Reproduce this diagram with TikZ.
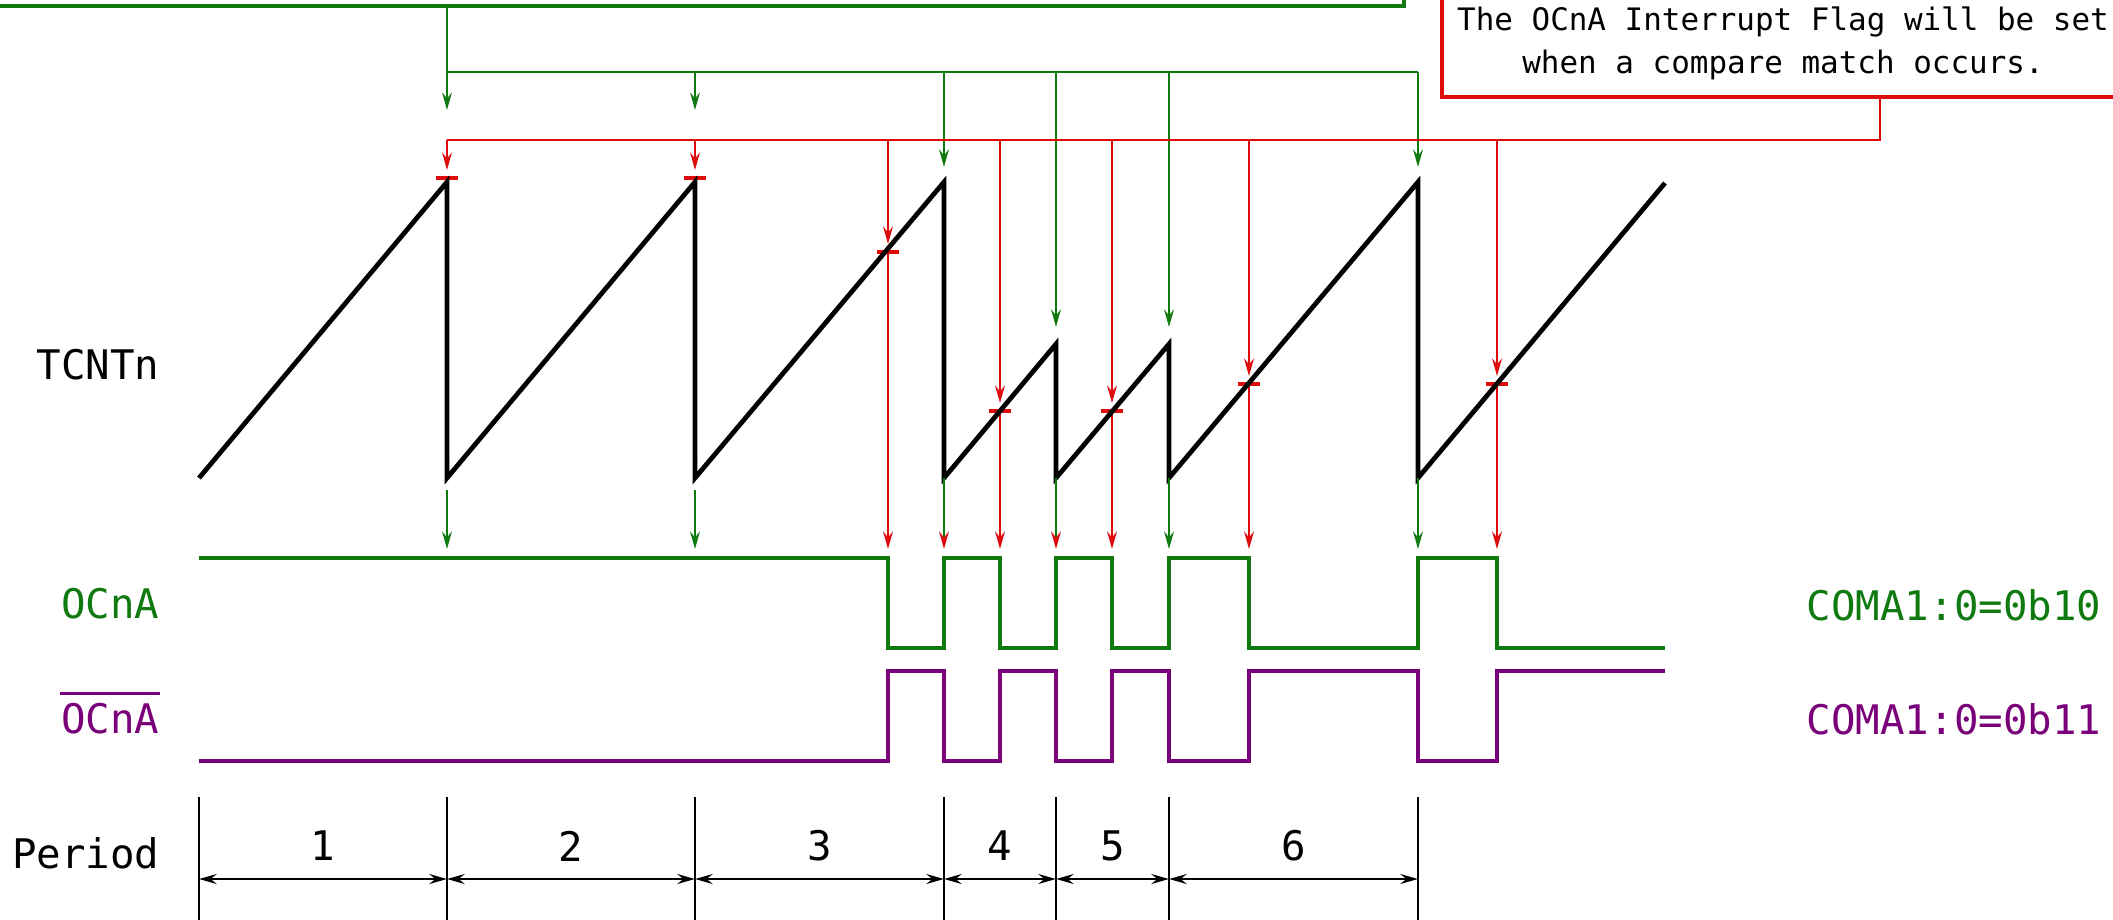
\documentclass[tikz,border=0pt]{standalone}
\usepackage{fontspec}
\setmonofont{DejaVu Sans Mono}
\usetikzlibrary{arrows.meta}
\usepackage{xcolor}
\definecolor{ocgreen}{RGB}{16,122,16}
\definecolor{ocred}{RGB}{222,12,12}
\definecolor{ocpurple}{RGB}{122,0,122}

\begin{document}
\begin{tikzpicture}[x=0.1mm, y=-0.1mm,
                    font=\ttfamily\fontsize{11.6}{14}\selectfont,
                    >={Stealth[length=5pt,width=2.8pt,inset=1.7pt]},
                    lbl/.style={inner sep=0pt, anchor=east},
                    thinline/.style={line width=0.55pt}]

    \useasboundingbox (0,0) rectangle (2113,919);
    \clip (0,0) rectangle (2113,919);

    % ==========================================================
    % notes on top
    % ==========================================================
    \draw[ocgreen, line width=1.2pt] (-20,-120) rectangle (1404,6);
    \node[draw=ocred, line width=1pt, minimum width=68.2mm, minimum height=10.7mm,
          align=center, font=\ttfamily\fontsize{8.8}{12.2}\selectfont]
         (flagbox) at (1783,43.5) {The OCnA Interrupt Flag will be set\\when a compare match occurs.};

    \coordinate (greentap) at (447,6);
    \coordinate (greenbus) at (447,72);
    \coordinate (redtap)   at (1880,140);

    % TOP / BOTTOM events
    \draw[ocgreen, thinline] (greentap) -- (greenbus) -- (1418,72);
    \foreach \x/\t in {447/110, 695/110, 944/167, 1056/327, 1169/327, 1418/167}
        \draw[ocgreen, thinline, ->] (\x,72) -- (\x,\t);

    % compare match
    \draw[ocred, line width=0.8pt] (flagbox.south -| redtap) -- (redtap) -- (447,140);
    \foreach \x/\c in {447/178, 695/178, 888/252, 1000/411, 1112/411, 1249/384, 1497/384} {
        \draw[ocred, thinline, ->] (\x,140) -- (\x,\c-8);
        \draw[ocred, line width=0.9pt] (\x-11,\c) -- (\x+11,\c);
    }
    \foreach \x/\c in {888/252, 1000/411, 1112/411, 1249/384, 1497/384}
        \draw[ocred, thinline, ->] (\x,\c) -- (\x,549);

    % ==========================================================
    % TCNTn
    % ==========================================================
    \draw[line width=1.35pt, line join=miter]
        (199,478) -- (447,182) -- (447,478) -- (695,182) -- (695,478)
        -- (944,182) -- (944,478) -- (1056,344) -- (1056,478) -- (1169,344)
        -- (1169,478) -- (1418,182) -- (1418,478) -- (1665,183);

    % events down to the outputs
    \foreach \x/\s/\hd in {447/490/ocgreen, 695/490/ocgreen, 944/478/ocred,
                           1056/478/ocred, 1169/478/ocgreen, 1418/478/ocgreen}
        \draw[ocgreen, thinline, -{Stealth[length=5pt,width=2.8pt,inset=1.7pt,color=\hd]}]
            (\x,\s) -- (\x,549);

    % ==========================================================
    % outputs
    % ==========================================================
    \draw[ocgreen, line width=1.05pt]
        (199,558) -| (888,648) -| (944,558) -| (1000,648) -| (1056,558)
        -| (1112,648) -| (1169,558) -| (1249,648) -| (1418,558) -| (1497,648)
        -- (1665,648);
    \draw[ocpurple, line width=1.05pt]
        (199,761) -| (888,671) -| (944,761) -| (1000,671) -| (1056,761)
        -| (1112,671) -| (1169,761) -| (1249,671) -| (1418,761) -| (1497,671)
        -- (1665,671);

    % labels
    \node[lbl] (tcntlbl) at (160,365) {TCNTn};
    \node[lbl, ocgreen] (ocalbl) at (160,604) {OCnA};
    \node[lbl, ocpurple] (ocnlbl) at (160,719) {OCnA};
    \draw[ocpurple, line width=0.9pt]
        ([yshift=2.6pt]ocnlbl.north west) -- ([yshift=2.6pt]ocnlbl.north east);
    \node[lbl, ocgreen] (coma10) at (2102,605) {COMA1:0=0b10};
    \node[lbl, ocpurple] (coma11) at (2102,719) {COMA1:0=0b11};

    % ==========================================================
    % periods
    % ==========================================================
    \node[lbl] (perlbl) at (160,853) {Period};
    \foreach \x in {199,447,695,944,1056,1169,1418}
        \draw[thinline] (\x,797) -- (\x,930);
    \foreach \a/\b/\n in {199/447/1, 447/695/2, 695/944/3, 944/1056/4,
                          1056/1169/5, 1169/1418/6} {
        \draw[line width=0.75pt, <->] (\a,879) -- (\b,879);
        \node (per\n) at ({(\a+\b)/2},846) {\n};
    }

\end{tikzpicture}
\end{document}
